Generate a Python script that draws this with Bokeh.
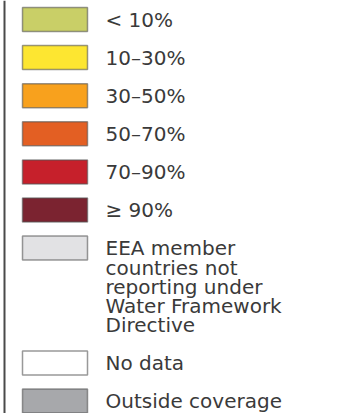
from bokeh.plotting import figure
from bokeh.models import Range1d, ColumnDataSource, Span
from bokeh.core.properties import value
from bokeh.embed import file_html
from bokeh.resources import INLINE

# Legend content
labels = [
    "< 10%",
    "10\u201330%",
    "30\u201350%",
    "50\u201370%",
    "70\u201390%",
    "\u2265 90%",
    "EEA member\ncountries not\nreporting under\nWater Framework\nDirective",
    "No data",
    "Outside coverage",
]
colors = [
    "#c9cf67", "#fde631", "#f8a11d", "#e35f23", "#c6202b",
    "#7b2330", "#e2e2e4", "#ffffff", "#a7a8ab",
]

W, H = 339, 413
p = figure(width=W, height=H, output_backend="svg", toolbar_location=None,
           x_range=Range1d(0, W), y_range=Range1d(H, 0), min_border=0)
p.axis.visible = False
p.grid.visible = False
p.outline_line_color = None
p.background_fill_color = "white"
p.border_fill_color = "white"
p.styles = {"position": "absolute", "left": "0px", "top": "0px"}

# layout
first_c = 19.0
gap = 38.1
line_h = 19.2
sw_l, sw_r, sw_h = 22, 87, 24
txt_x = 105
base_off = 0.3

centers = []
extra = 0.0
for i, lab in enumerate(labels):
    c = first_c + i * gap + extra
    centers.append(c)
    extra += (lab.count("\n")) * line_h

src = ColumnDataSource(dict(
    left=[sw_l] * len(labels), right=[sw_r] * len(labels),
    top=[c - sw_h / 2 for c in centers], bottom=[c + sw_h / 2 for c in centers],
    color=colors,
))
p.quad(left="left", right="right", top="top", bottom="bottom", source=src,
       fill_color="color", line_color="#555555", line_alpha=0.6, line_width=1.5)

tx, ty, tt = [], [], []
for lab, c in zip(labels, centers):
    for j, ln in enumerate(lab.split("\n")):
        tx.append(txt_x)
        ty.append(c + base_off + j * line_h)
        tt.append(ln)
p.text(x=tx, y=ty, text=tt, text_font=value("DejaVu Sans"), text_font_size="20px",
       text_color="#3a3a3a", text_baseline="alphabetic", text_align="left")

p.add_layout(Span(location=4, dimension="height", line_color="#4a4a4a", line_width=2))

open("out.html", "w").write(file_html(p, INLINE))
